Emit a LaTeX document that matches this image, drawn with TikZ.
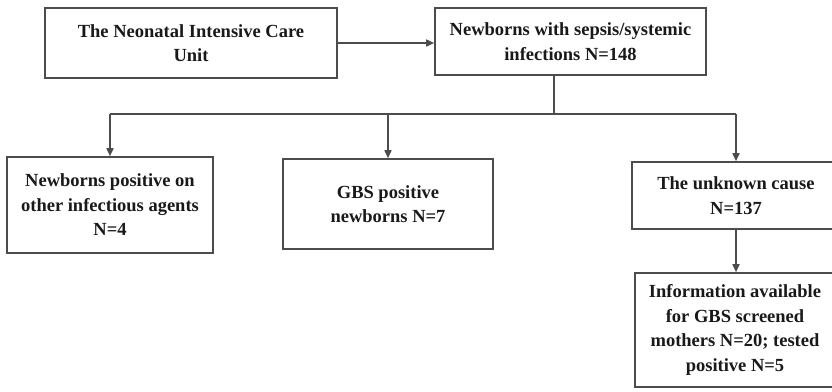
\documentclass[tikz,border=0pt]{standalone}
\usepackage{fontspec}
\setmainfont{Liberation Serif}
\usepackage{tikz}
\usetikzlibrary{arrows.meta,calc}

\begin{document}
\begin{tikzpicture}[x=1pt,y=-1pt,font=\bfseries\fontsize{18.5}{24.5}\selectfont,>={Triangle[length=8pt,width=7pt]},
  box/.style={draw=black!70,line width=1.6pt,align=center,inner sep=0pt,text=black!90},
  link/.style={draw=black!70,line width=1.6pt}]
\useasboundingbox (0,0) rectangle (832,391);
% top row
\node[box,minimum width=292pt,minimum height=70pt] (nicu) at (191,43) {The Neonatal Intensive Care\\Unit};
\node[box,minimum width=271pt,minimum height=67pt] (sepsis) at (570.5,41.5) {Newborns with sepsis/systemic\\infections N=148};
% branches
\node[box,minimum width=206pt,minimum height=96pt] (other) at (110,205) {Newborns positive on\\other infectious agents\\N=4};
\node[box,minimum width=210pt,minimum height=90pt] (gbs) at (388,204) {GBS positive\\newborns N=7};
\node[box,minimum width=208pt,minimum height=67pt] (unknown) at (736,195.5) {The unknown cause\\N=137};
\node[box,minimum width=200pt,minimum height=114pt] (info) at (735,330) {Information available\\for GBS screened\\mothers N=20; tested\\positive N=5};
% connectors
\draw[link,->] (nicu.east) -- (nicu.east -| sepsis.west);
\coordinate (split) at (554,114);
\draw[link] (sepsis.south -| split) -- (split);
\draw[link] (split -| other.north) -- (split -| unknown.north);
\foreach \n in {other,gbs,unknown}
  \draw[link,->] (split -| \n.north) -- (\n.north);
\draw[link,->] (unknown.south) -- (unknown.south |- info.north);
\end{tikzpicture}
\end{document}
